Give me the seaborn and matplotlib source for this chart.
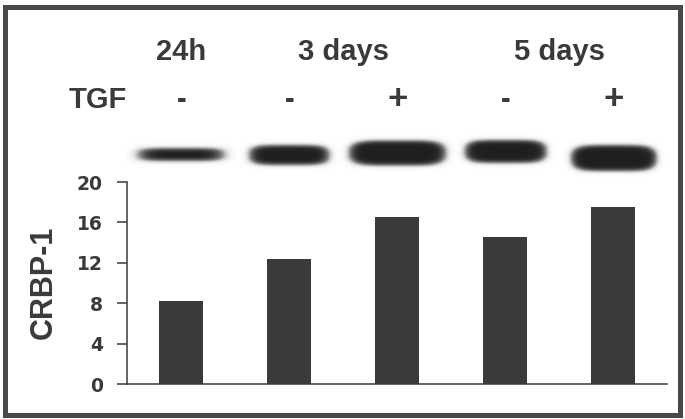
import numpy as np
import pandas as pd
import seaborn as sns
from matplotlib import pyplot as plt
from matplotlib.patches import Rectangle
from matplotlib import transforms

# lanes: 24h(-), 3 days(-,+), 5 days(-,+)
lanes = ['24h -', '3d -', '3d +', '5d -', '5d +']
tgf = ['-', '-', '+', '-', '+']
crbp1 = [8.2, 12.35, 16.55, 14.6, 17.55]
groups = ['24h', '3 days', '5 days']
group_lanes = [[0], [1, 2], [3, 4]]
yticks = [0, 4, 8, 12, 16, 20]

# western blot band size per lane (pixels: width, height, vertical shift)
band_w = [82, 78, 95, 80, 84]
band_h = [12, 19, 24, 22, 25]
band_dy = [0, -0.5, 1.5, 3, -3.5]

sns.set_theme(style='ticks')
plt.rcParams['font.family'] = ['Liberation Sans', 'DejaVu Sans']

ink = '#3a3a3a'
W, H = 685, 419
fig = plt.figure(figsize=(W / 100, H / 100), dpi=100)

# main bar axes
ax = fig.add_axes([127.3 / W, 1 - 384.3 / H, 540 / W, 202.3 / H])
df = pd.DataFrame({'lane': lanes, 'crbp1': crbp1})
sns.barplot(data=df, x='lane', y='crbp1', color=ink, width=0.41,
            saturation=1, ax=ax, edgecolor='none')
ax.set_xlim(-0.5, len(lanes) - 0.5)
ax.set_ylim(0, 20)
ax.set_yticks(yticks)
ax.set_yticklabels([str(t) for t in yticks], family='DejaVu Sans',
                   fontweight='bold', fontsize=13.5, color=ink)
ax.tick_params(axis='y', length=7.5, width=1.1, pad=10, color=ink)
ax.tick_params(axis='x', length=0, labelbottom=False)
ax.set_xlabel('')
ax.set_ylabel('')
sns.despine(ax=ax)
for s in ['left', 'bottom']:
    ax.spines[s].set_linewidth(1.1)
    ax.spines[s].set_color(ink)

fig.text(44 / W, 1 - 282 / H, 'CRBP-1', rotation=90, ha='center', va='center',
         fontsize=22, fontweight='bold', color=ink)

# blot band strip above the bars
bax = fig.add_axes([127.3 / W, 1 - 180 / H, 540 / W, 50 / H], sharex=ax)
nx, ny = 540, 50
px = np.arange(nx) + 0.5
py = np.arange(ny) + 0.5
X, Y = np.meshgrid(px, py)
img = np.zeros((ny, nx))
unit = nx / len(lanes)
for i in range(len(lanes)):
    cx = (i + 0.5) * unit
    cy = 25 + band_dy[i]
    a, b = band_w[i] / 2, band_h[i] / 2
    r = ((np.abs(X - cx) / a) ** 5 + (np.abs(Y - cy) / b) ** 2.6) ** (1 / 2.6)
    d = (r - 1) * b
    img = np.maximum(img, 1 / (1 + np.exp((d - 0.5) / 1.2)))
bax.imshow(img, extent=(-0.5, len(lanes) - 0.5, 0, ny), origin='lower',
           aspect='auto', cmap='Greys', vmin=0, vmax=1.12,
           interpolation='bilinear')
bax.set_ylim(0, ny)
bax.axis('off')

# lane headers
trans = transforms.blended_transform_factory(ax.transData, fig.transFigure)
for g, idx in zip(groups, group_lanes):
    fig.text(np.mean(idx), 1 - 52 / H, g, transform=trans, ha='center',
             va='center', fontsize=21, fontweight='bold', color=ink)
for i, s in enumerate(tgf):
    fig.text(i, 1 - 100 / H, s, transform=trans, ha='center', va='center',
             fontsize=21 if s == '-' else 25, fontweight='bold', color=ink)
fig.text(98 / W, 1 - 100 / H, 'TGF', ha='center', va='center',
         fontsize=21, fontweight='bold', color=ink)

# frame around the panel
fig.patches.append(Rectangle((4.5 / W, 1 - 414.5 / H), 675 / W, 407 / H,
                             transform=fig.transFigure, fill=False,
                             edgecolor='#484848', linewidth=3.6))

fig.savefig('out.png', dpi=100)
